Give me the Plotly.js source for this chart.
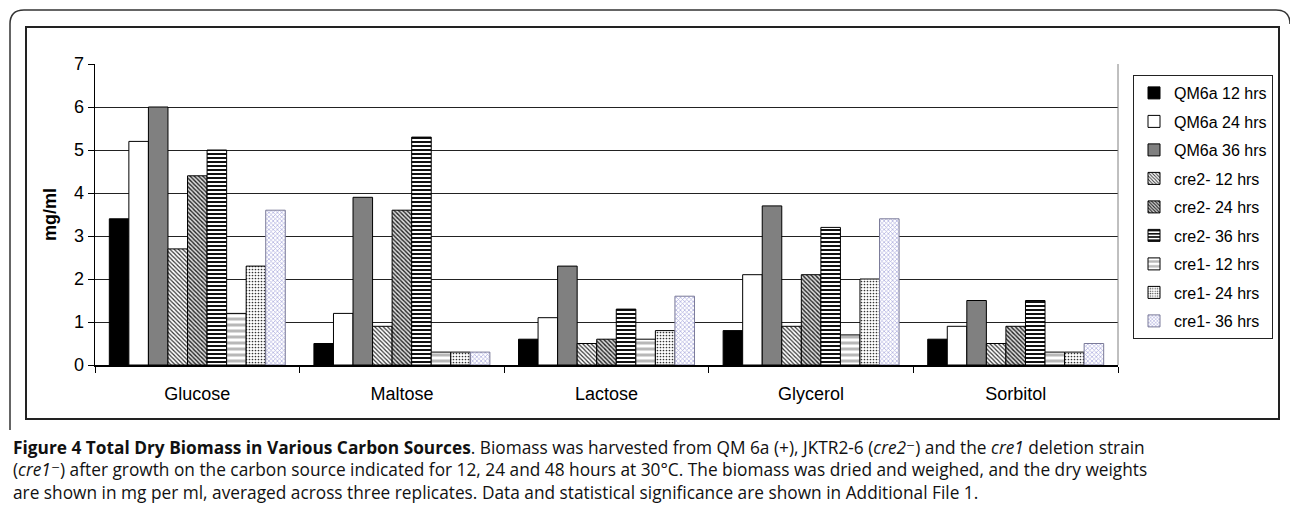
<!DOCTYPE html>
<html><head><meta charset="utf-8">
<script src="https://cdn.plot.ly/plotly-3.0.1.min.js"></script>
<style>body{margin:0;background:#fff}#c{width:1290px;height:511px}</style>
</head><body><div id="c"></div>
<script>
const categories = ["Glucose","Maltose","Lactose","Glycerol","Sorbitol"];
const seriesNames = ["QM6a 12 hrs","QM6a 24 hrs","QM6a 36 hrs","cre2- 12 hrs","cre2- 24 hrs","cre2- 36 hrs","cre1- 12 hrs","cre1- 24 hrs","cre1- 36 hrs"];
const qm6a12 = [3.4,0.5,0.6,0.8,0.6];
const qm6a24 = [5.2,1.2,1.1,2.1,0.9];
const qm6a36 = [6.0,3.9,2.3,3.7,1.5];
const cre2_12 = [2.7,0.9,0.5,0.9,0.5];
const cre2_24 = [4.4,3.6,0.6,2.1,0.9];
const cre2_36 = [5.0,5.3,1.3,3.2,1.5];
const cre1_12 = [1.2,0.3,0.6,0.7,0.3];
const cre1_24 = [2.3,0.3,0.8,2.0,0.3];
const cre1_36 = [3.6,0.3,1.6,3.4,0.5];
const yTicks = [0,1,2,3,4,5,6,7];

const values = [qm6a12,qm6a24,qm6a36,cre2_12,cre2_24,cre2_36,cre1_12,cre1_24,cre1_36];
const styles = [
  {color:"#000000"},
  {color:"#ffffff"},
  {color:"#808080"},
  {color:"#ffffff", pattern:{shape:"\\", fgcolor:"#333", bgcolor:"#fff", size:3, solidity:0.4}},
  {color:"#ffffff", pattern:{shape:"\\", fgcolor:"#222", bgcolor:"#ddd", size:3, solidity:0.45}},
  {color:"#ffffff", pattern:{shape:"-", fgcolor:"#111", bgcolor:"#fff", size:4, solidity:0.5}},
  {color:"#ffffff", pattern:{shape:"-", fgcolor:"#b8b8b8", bgcolor:"#fff", size:6, solidity:0.5}},
  {color:"#ffffff", pattern:{shape:".", fgcolor:"#333", bgcolor:"#fff", size:3, solidity:0.25}},
  {color:"#ffffff", pattern:{shape:"x", fgcolor:"#aaaadd", bgcolor:"#fff", size:3, solidity:0.4}}
];

const traces = values.map((v,i)=>{
  const m = {color: styles[i].color, line:{color: i===8 ? "#7a7a99" : "#000", width:1}};
  if (styles[i].pattern) m.pattern = Object.assign({fillmode:"replace"}, styles[i].pattern);
  return {type:"bar", x:categories, y:v, name:seriesNames[i], marker:m, legendgroup:"g"+i};
});

// pixel -> paper helpers
const L=95, R=1118, T=64, B=365;
const px = x => (x-L)/(R-L);
const py = y => (B-y)/(B-T);

const shapes = [
  {type:"path", xref:"paper", yref:"paper",
   path:`M ${px(10)},${py(430)} L ${px(10)},${py(24)} Q ${px(10)},${py(10)} ${px(24)},${py(10)} L ${px(1276)},${py(10)} Q ${px(1290)},${py(10)} ${px(1290)},${py(24)}`,
   line:{color:"#333", width:1.5}},
  {type:"rect", xref:"paper", yref:"paper", x0:px(26), x1:px(1279), y0:py(419), y1:py(27), line:{color:"#222", width:2}},
  {type:"line", xref:"paper", yref:"paper", x0:1, x1:1, y0:0, y1:1, line:{color:"#808080", width:1}}
];

const capFont = {family:"Open Sans, DejaVu Sans, sans-serif", size:17.3, color:"#111"};
const caption =
  "<b>Figure 4 Total Dry Biomass in Various Carbon Sources</b>. Biomass was harvested from QM 6a (+), JKTR2-6 (<i>cre2⁻</i>) and the <i>cre1</i> deletion strain<br>" +
  "(<i>cre1⁻</i>) after growth on the carbon source indicated for 12, 24 and 48 hours at 30°C. The biomass was dried and weighed, and the dry weights<br>" +
  "are shown in mg per ml, averaged across three replicates. Data and statistical significance are shown in Additional File 1.";
const annotations = [{
  text:caption, xref:"paper", yref:"paper", x:px(11), y:py(470), xanchor:"left", yanchor:"middle",
  showarrow:false, align:"left", font:capFont
}];

const axFont = "Liberation Sans, Arial, sans-serif";
const layout = {
  width:1290, height:511,
  margin:{l:L, r:1290-R, t:T, b:511-B, pad:0},
  paper_bgcolor:"#fff", plot_bgcolor:"#fff",
  barmode:"group", bargap:0.14, bargroupgap:0,
  showlegend:true,
  legend:{x:px(1133), y:py(75), xanchor:"left", yanchor:"top",
    bordercolor:"#222", borderwidth:1, bgcolor:"#fff",
    font:{family:axFont, size:16, color:"#000"},
    tracegroupgap:4.7},
  font:{family:axFont, color:"#000"},
  xaxis:{type:"category", tickson:"boundaries", ticks:"outside", ticklen:6, tickcolor:"#000",
    showline:true, linecolor:"#000", linewidth:1.5, showgrid:false,
    tickfont:{size:18, family:axFont}, ticklabelstandoff:12},
  yaxis:{range:[0,7], tickvals:yTicks, ticks:"outside", ticklen:6, tickcolor:"#000",
    showline:true, linecolor:"#000", linewidth:1.5, showgrid:true, gridcolor:"#222", gridwidth:1,
    zeroline:false, tickfont:{size:18, family:axFont},
    title:{text:"<b>mg/ml</b>", font:{size:18, family:axFont}, standoff:12}},
  shapes:shapes, annotations:annotations
};

Plotly.newPlot("c", traces, layout, {displayModeBar:false, staticPlot:true});
</script></body></html>
